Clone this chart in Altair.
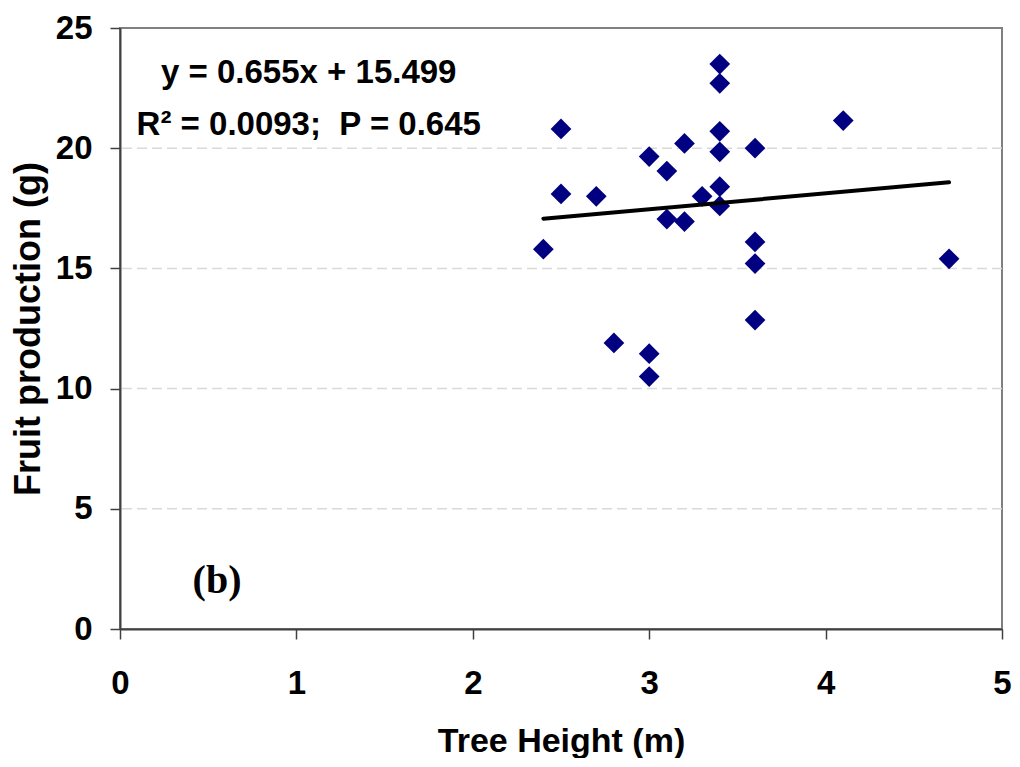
import altair as alt
import pandas as pd

# Data
tree_height = [3.4, 3.4, 2.5, 3.4, 3.2, 3.4, 3.6, 3.0, 3.1, 2.5, 2.7, 3.4, 3.3,
               3.4, 3.1, 3.2, 3.6, 2.4, 3.6, 3.6, 2.8, 3.0, 3.0, 4.1, 4.7]
fruit_prod = [23.5, 22.7, 20.8, 20.7, 20.2, 19.85, 20.0, 19.65, 19.05, 18.1, 18.0, 18.4, 18.0,
              17.6, 17.05, 16.95, 16.1, 15.8, 15.2, 12.85, 11.9, 11.45, 10.5, 21.15, 15.4]

trend_x = [2.4, 4.7]
trend_y = [17.07, 18.58]

grid_values = [5, 10, 15, 20]
x_ticks = [0, 1, 2, 3, 4, 5]
y_ticks = [0, 5, 10, 15, 20, 25]

eq_lines = ["y = 0.655x + 15.499", "R\u00b2 = 0.0093;\u00a0 P = 0.645"]
eq_x = [1.07, 1.07]
eq_y = [22.7, 20.54]
panel_label = ["(b)"]
panel_x = [0.55]
panel_y = [1.5]

pts = pd.DataFrame({"h": tree_height, "f": fruit_prod})
trend = pd.DataFrame({"h": trend_x, "f": trend_y})
grid = pd.DataFrame({"g": grid_values})
eq = pd.DataFrame({"t": eq_lines, "x": eq_x, "y": eq_y})
lab = pd.DataFrame({"t": panel_label, "x": panel_x, "y": panel_y})

FONT = "Liberation Sans"
xs = alt.Scale(domain=[0, 5], nice=False, zero=False)
ys = alt.Scale(domain=[0, 25], nice=False, zero=False)

x_axis = alt.Axis(values=x_ticks, format="d", grid=False, title="Tree Height (m)",
                  labelPadding=28, titleY=122, titleBaseline="alphabetic", titleFontSize=34)
y_axis = alt.Axis(values=y_ticks, format="d", grid=False, title="Fruit production (g)",
                  labelPadding=18, titleX=-81, titleBaseline="alphabetic", titleFontSize=36)

gridlines = alt.Chart(grid).mark_rule(color="#d9d9d9", strokeWidth=1.5, strokeDash=[10, 5]).encode(
    y=alt.Y("g:Q", scale=ys, axis=y_axis)
)

points = alt.Chart(pts).mark_point(shape="diamond", filled=True, color="#000080",
                                   size=430, opacity=1).encode(
    x=alt.X("h:Q", scale=xs, axis=x_axis),
    y=alt.Y("f:Q", scale=ys, axis=y_axis),
)

line = alt.Chart(trend).mark_line(color="black", strokeWidth=4, strokeCap="round").encode(
    x=alt.X("h:Q", scale=xs),
    y=alt.Y("f:Q", scale=ys),
)

eq_text = alt.Chart(eq).mark_text(font=FONT, fontWeight="bold", fontSize=33, color="black",
                                  align="center", baseline="alphabetic").encode(
    x=alt.X("x:Q", scale=xs), y=alt.Y("y:Q", scale=ys), text="t:N"
)

lab_text = alt.Chart(lab).mark_text(font="Liberation Serif", fontWeight="bold", fontSize=40,
                                    color="black", align="center", baseline="alphabetic").encode(
    x=alt.X("x:Q", scale=xs), y=alt.Y("y:Q", scale=ys), text="t:N"
)

chart = alt.layer(gridlines, points, line, eq_text, lab_text).properties(
    width=882, height=601,
    autosize=alt.AutoSizeParams(type="none"),
    padding={"left": 112, "top": 20, "right": 10, "bottom": 129},
).configure_view(
    stroke="#808080", strokeWidth=2
).configure_axis(
    labelFont=FONT, labelFontWeight="bold", labelFontSize=33, labelColor="black",
    titleFont=FONT, titleFontWeight="bold", titleColor="black",
    domainColor="#404040", domainWidth=2, tickColor="#404040", tickWidth=1.5, tickSize=10,
    labelFlush=False, labelOverlap=False,
)

chart.save("out.html", embed_options={"renderer": "svg", "actions": False})
